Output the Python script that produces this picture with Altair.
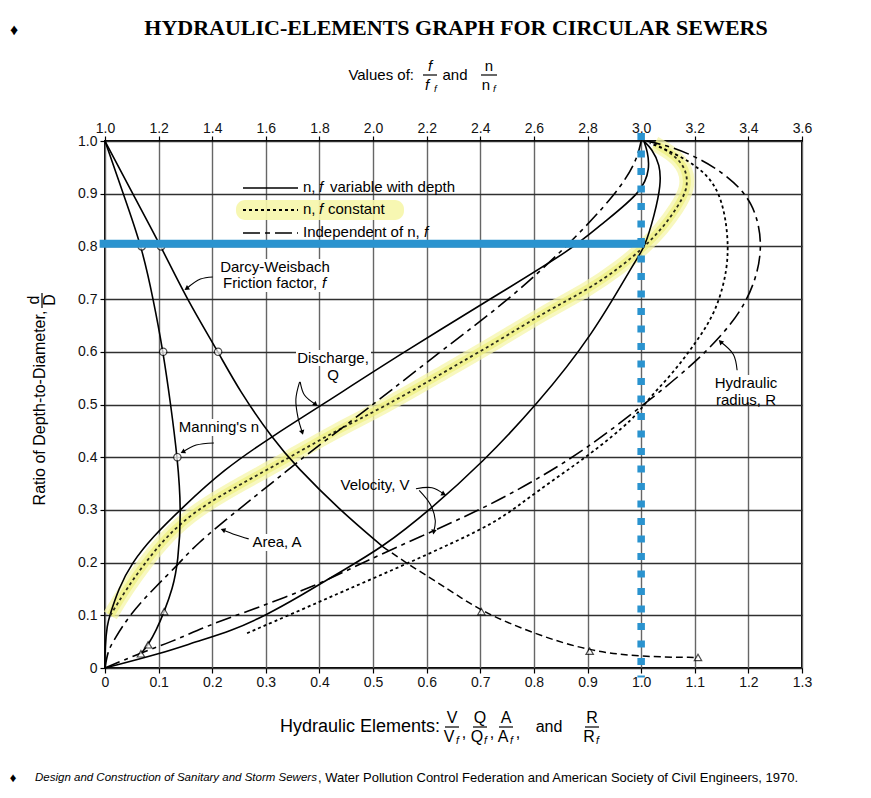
import math
import altair as alt
import pandas as pd

# ---------------- data ----------------
x_ticks = [round(0.1 * i, 1) for i in range(14)]          # hydraulic elements 0 .. 1.3
y_ticks = [round(0.1 * i, 1) for i in range(11)]          # d/D 0 .. 1.0

# Discharge Q, n, f variable with depth (solid)
qv_d = [0.0, 0.04, 0.082, 0.10, 0.15, 0.20, 0.25, 0.30, 0.376, 0.445, 0.496, 0.595, 0.711, 0.796, 0.84, 0.904, 0.948, 0.98, 1.0]
qv_x = [0.0, 0.0, 0.004, 0.009, 0.025, 0.05, 0.09, 0.14, 0.22, 0.32, 0.40, 0.55, 0.736, 0.873, 0.923, 1.003, 1.016, 1.012, 1.005]
# Velocity V, n, f variable with depth (solid)
vv_d = [0.0, 0.028, 0.05, 0.07, 0.10, 0.137, 0.183, 0.23, 0.30, 0.391, 0.499, 0.632, 0.777, 0.796, 0.86, 0.917, 0.955, 0.985, 1.0]
vv_x = [0.0, 0.106, 0.17, 0.235, 0.30, 0.365, 0.44, 0.519, 0.606, 0.705, 0.805, 0.91, 0.991, 1.006, 1.025, 1.037, 1.035, 1.02, 1.005]
# Discharge Q, n, f constant (dotted, highlighted)
qc_d = [0.10, 0.15, 0.20, 0.25, 0.30, 0.35, 0.40, 0.45, 0.495, 0.56, 0.622, 0.675, 0.72, 0.76, 0.796, 0.835, 0.872, 0.91, 0.948, 0.975, 0.995]
qc_x = [0.01, 0.04, 0.075, 0.115, 0.17, 0.255, 0.345, 0.43, 0.52, 0.63, 0.736, 0.82, 0.904, 0.96, 1.003, 1.04, 1.066, 1.088, 1.084, 1.06, 1.025]
# Velocity V, n, f constant (dotted)
vc_d = [0.066, 0.11, 0.148, 0.192, 0.238, 0.28, 0.335, 0.404, 0.477, 0.505, 0.56, 0.619, 0.676, 0.758, 0.822, 0.885, 0.935, 0.973, 0.996]
vc_x = [0.265, 0.365, 0.45, 0.55, 0.65, 0.736, 0.805, 0.904, 0.991, 1.008, 1.06, 1.103, 1.14, 1.162, 1.162, 1.152, 1.128, 1.072, 1.016]
# Area A, independent of n, f
a_d = [0.0, 0.031, 0.05, 0.10, 0.15, 0.20, 0.233, 0.30, 0.35, 0.40, 0.45, 0.50, 0.60, 0.70, 0.80, 0.90, 0.96, 1.0]
a_x = [0.0, 0.005, 0.015, 0.045, 0.09, 0.14, 0.168, 0.248, 0.31, 0.37, 0.435, 0.50, 0.625, 0.755, 0.862, 0.954, 0.991, 1.0]
# Hydraulic radius R, independent of n, f
r_d = [0.0, 0.028, 0.05, 0.078, 0.10, 0.154, 0.20, 0.25, 0.30, 0.357, 0.42, 0.50, 0.575, 0.657, 0.727, 0.803, 0.885, 0.935, 0.967, 0.99, 1.0]
r_x = [0.0, 0.065, 0.125, 0.186, 0.245, 0.39, 0.48, 0.59, 0.70, 0.805, 0.904, 1.005, 1.097, 1.175, 1.212, 1.228, 1.21, 1.16, 1.109, 1.055, 1.01]
# Manning's n/nf (top scale)
mn_d = [1.0, 0.9, 0.8, 0.7, 0.6, 0.5, 0.4, 0.3, 0.2, 0.15, 0.107, 0.07, 0.044, 0.027]
mn_t = [1.0, 1.068, 1.137, 1.18, 1.217, 1.245, 1.27, 1.285, 1.273, 1.252, 1.221, 1.19, 1.161, 1.134]
# Darcy-Weisbach f/ff (top scale), solid part then dashed part
df_d = [1.0, 0.9, 0.8, 0.7, 0.6, 0.527, 0.433, 0.382, 0.30, 0.23]
df_t = [1.0, 1.103, 1.209, 1.305, 1.422, 1.50, 1.628, 1.714, 1.875, 2.037]
dfd_d = [0.23, 0.199, 0.148, 0.107, 0.063, 0.032, 0.021, 0.02]
dfd_t = [2.037, 2.124, 2.286, 2.404, 2.61, 2.808, 3.0, 3.212]
# plotted markers (top scale)
circ_t = [1.137, 1.217, 1.27, 1.209, 1.422]
circ_d = [0.8, 0.6, 0.4, 0.8, 0.6]
tri_t = [1.221, 1.161, 1.134, 2.404, 2.808, 3.212]
tri_d = [0.107, 0.044, 0.027, 0.107, 0.032, 0.02]

# annotation arrows (data units, tip last)
arrows = [
    ([0.201, 0.178, 0.152], [0.742, 0.738, 0.72]),          # Darcy-Weisbach
    ([0.203, 0.17, 0.145], [0.427, 0.423, 0.41]),           # Manning's n
    ([0.364, 0.372, 0.393], [0.543, 0.518, 0.50]),          # Discharge -> solid
    ([0.363, 0.356, 0.36, 0.368], [0.543, 0.51, 0.475, 0.447]),  # Discharge -> dotted
    ([0.58, 0.61, 0.632], [0.34, 0.342, 0.33]),             # Velocity -> solid
    ([0.586, 0.607, 0.616, 0.613], [0.337, 0.31, 0.28, 0.258]),  # Velocity -> dotted
    ([0.268, 0.243, 0.22], [0.245, 0.253, 0.262]),          # Area
    ([1.179, 1.172, 1.148], [0.565, 0.595, 0.619]),         # Hydraulic radius
]

# ---------------- layout ----------------
W, H = 697, 527
X0, Y0 = 105, 141           # page position of plot origin, for text placement
FONT = "Liberation Sans"
BLUE = "#2a93cf"
YEL_SOFT = "#f6f6aa"
YEL = "#eef07c"
SX, SY = W / 1.3, H / 1.0

xs = alt.Scale(domain=[0, 1.3], nice=False, zero=False)
ys = alt.Scale(domain=[0, 1.0], nice=False, zero=False)
one = pd.DataFrame({"a": [0]})


def line(xv, yv, dash=None, width=1.5, color="black", opacity=1.0, top=False, interp="basis"):
    d = pd.DataFrame({"x": xv, "y": yv, "i": list(range(len(xv)))})
    kw = dict(color=color, strokeWidth=width, interpolate=interp, opacity=opacity, strokeCap="butt")
    if dash:
        kw["strokeDash"] = dash
    ch = alt.Chart(d)
    f = "x"
    if top:
        ch = ch.transform_calculate(xb="(datum.x - 1) / 2")
        f = "xb"
    return ch.mark_line(**kw).encode(
        x=alt.X(f"{f}:Q", scale=xs, axis=None),
        y=alt.Y("y:Q", scale=ys, axis=None),
        order="i:Q",
    )


def text(x, y, s, size=15, align="center", style="normal", weight="normal", font=FONT, angle=0):
    kw = dict(text=s, fontSize=size, align=align, baseline="middle", font=font,
              fontStyle=style, fontWeight=weight, color="black")
    if angle:
        kw["angle"] = angle
    return alt.Chart(one).mark_text(**kw).encode(x=alt.value(x - X0), y=alt.value(y - Y0))


def box(x1, x2, y1, y2, color="white", opacity=1.0, radius=0):
    return alt.Chart(one).mark_rect(color=color, opacity=opacity, cornerRadius=radius).encode(
        x=alt.value(x1 - X0), x2=alt.value(x2 - X0), y=alt.value(y1 - Y0), y2=alt.value(y2 - Y0))


def hrule(x1, x2, y, w=1.2, color="black", dash=None):
    kw = dict(color=color, strokeWidth=w, strokeCap="butt")
    if dash:
        kw["strokeDash"] = dash
    return alt.Chart(one).mark_rule(**kw).encode(
        x=alt.value(x1 - X0), x2=alt.value(x2 - X0), y=alt.value(y - Y0))


def vrule(x, y1, y2, w=1.2):
    return alt.Chart(one).mark_rule(color="black", strokeWidth=w).encode(
        x=alt.value(x - X0), y=alt.value(y1 - Y0), y2=alt.value(y2 - Y0))


def frac(cx, cy, num, den, size=15, italic=False, half=7):
    st = "italic" if italic else "normal"
    return [
        text(cx, cy - 9, num, size, style=st),
        hrule(cx - half, cx + half, cy),
        text(cx - 3, cy + 10, den, size, style=st),
        text(cx + 4, cy + 14, "f", size * 0.66, align="left", style="italic"),
    ]


layers = []

# axes + grid
axis_df = pd.DataFrame({"x": [0, 1.3], "y": [0, 1.0]})
lab0 = "datum.value == 0 ? '0' : format(datum.value, '.1f')"
common = dict(tickSize=5, tickColor="black", tickWidth=1.2, domain=False, labelFont=FONT,
              labelFontSize=14, labelColor="#111", labelOverlap=False, labelFlush=False, title=None)
layers.append(
    alt.Chart(axis_df).mark_point(opacity=0).encode(
        x=alt.X("x:Q", scale=xs, axis=alt.Axis(orient="bottom", values=x_ticks, labelExpr=lab0, grid=True,
                                               gridColor="#666666", gridWidth=1.4, labelPadding=2, **common)),
        y=alt.Y("y:Q", scale=ys, axis=alt.Axis(orient="left", values=y_ticks, labelExpr=lab0, grid=True,
                                               gridColor="#303030", gridWidth=1.4, labelPadding=3, **common)),
    )
)
layers.append(
    alt.Chart(axis_df).mark_point(opacity=0).encode(
        x=alt.X("x:Q", scale=xs, axis=alt.Axis(orient="top", values=x_ticks,
                                               labelExpr="format(1 + 2 * datum.value, '.1f')", grid=False,
                                               labelPadding=1, **common)),
        y=alt.Y("y:Q", scale=ys, axis=None),
    )
)

# white backgrounds behind some curve labels (they interrupt the grid in the reference)
layers += [
    box(218, 334, 259, 292),
    box(179, 261, 419, 436),
    box(296, 371, 350, 366),
    box(326, 341, 367, 383),
    box(251, 304, 534, 551),
    box(712, 781, 375, 402),
]

# yellow highlight under the "n, f constant" discharge curve and its legend entry
layers.append(line(qc_x, qc_d, width=15, color=YEL_SOFT, opacity=0.75))
layers.append(line(qc_x, qc_d, width=8, color=YEL, opacity=0.7))
layers.append(box(236, 404, 200, 220, color=YEL_SOFT, opacity=0.9, radius=9))

IND = [16, 5, 4, 5]
CONST = [3, 3]
layers += [
    line(qv_x, qv_d, width=1.6),
    line(vv_x, vv_d, width=1.6),
    line(qc_x, qc_d, dash=CONST, width=1.8, color="#2a2a1a"),
    line(vc_x, vc_d, dash=CONST, width=1.8),
    line(a_x, a_d, dash=IND, width=1.6),
    line(r_x, r_d, dash=IND, width=1.6),
    line(mn_t, mn_d, width=1.6, top=True),
    line(df_t, df_d, width=1.6, top=True),
    line(dfd_t, dfd_d, dash=[7, 4], width=1.5, top=True),
]

# markers
layers.append(
    alt.Chart(pd.DataFrame({"x": circ_t, "y": circ_d})).transform_calculate(xb="(datum.x - 1) / 2")
    .mark_point(shape="circle", filled=True, fill="white", stroke="black", strokeWidth=1.2, size=55)
    .encode(x=alt.X("xb:Q", scale=xs, axis=None), y=alt.Y("y:Q", scale=ys, axis=None))
)
layers.append(
    alt.Chart(pd.DataFrame({"x": tri_t, "y": tri_d})).transform_calculate(xb="(datum.x - 1) / 2")
    .mark_point(shape="triangle-up", filled=True, fill="white", stroke="black", strokeWidth=1.2, size=55)
    .encode(x=alt.X("xb:Q", scale=xs, axis=None), y=alt.Y("y:Q", scale=ys, axis=None))
)

# annotation arrows
for ax_, ay_ in arrows:
    layers.append(line(ax_, ay_, width=1.1, interp="catmull-rom"))
    dxp = (ax_[-1] - ax_[-2]) * SX
    dyp = -(ay_[-1] - ay_[-2]) * SY
    ang = math.degrees(math.atan2(dxp, -dyp)) % 360
    layers.append(
        alt.Chart(pd.DataFrame({"x": [ax_[-1]], "y": [ay_[-1]]}))
        .mark_point(shape="triangle-up", filled=True, color="black", size=30, angle=ang, opacity=1)
        .encode(x=alt.X("x:Q", scale=xs, axis=None), y=alt.Y("y:Q", scale=ys, axis=None))
    )

# legend
layers += [
    hrule(243, 298, 188, w=1.6),
    hrule(243, 298, 210, w=1.8, dash=[3, 3]),
    hrule(243, 298, 233, w=1.6, dash=[17, 5, 5, 5]),
    text(303, 187, "n,", 15, align="left"),
    text(319, 187, "f", 15, align="left", style="italic"),
    text(330, 187, "variable with depth", 15, align="left"),
    text(303, 209, "n,", 15, align="left"),
    text(319, 209, "f", 15, align="left", style="italic"),
    text(328, 209, "constant", 15, align="left"),
    text(303, 232, "Independent of n,", 15, align="left"),
    text(424, 232, "f", 15, align="left", style="italic"),
]

# curve labels
layers += [
    text(275, 267, "Darcy-Weisbach", 15),
    text(223, 283, "Friction factor,", 15, align="left"),
    text(322, 283, "f", 15, align="left", style="italic"),
    text(219, 427, "Manning's n", 15),
    text(333, 358, "Discharge,", 15),
    text(333, 375, "Q", 15),
    text(375, 485, "Velocity, V", 15),
    text(277, 542, "Area, A", 15),
    text(746, 383, "Hydraulic", 15),
    text(746, 400, "radius, R", 15),
]

# titles
layers += [
    text(14, 30, "\u2666", 16),
    text(456, 28, "HYDRAULIC-ELEMENTS GRAPH FOR CIRCULAR SEWERS", 22, weight="bold", font="Liberation Serif"),
    text(414, 75, "Values of:", 15, align="right"),
    text(455, 75, "and", 15),
]
layers += frac(430, 75, "f", "f", 15, italic=True, half=7)
layers += frac(489, 75, "n", "n", 15, half=8)

# y-axis title
layers += [
    text(40, 408, "Ratio of Depth-to-Diameter,", 16, angle=270),
    text(34, 300, "d", 16, angle=270),
    text(50, 300, "D", 16, angle=270),
    vrule(42, 293, 308),
]

# x-axis title
layers += [text(440, 727, "Hydraulic Elements:", 18, align="right")]
layers += frac(452, 727, "V", "V", 16, half=7)
layers += [text(464, 733, ",", 16)]
layers += frac(480, 727, "Q", "Q", 16, half=7)
layers += [text(492, 733, ",", 16)]
layers += frac(506, 727, "A", "A", 16, half=7)
layers += [text(518, 733, ",", 16), text(549, 727, "and", 16)]
layers += frac(592, 727, "R", "R", 16, half=7)

# source line
layers += [
    text(13, 778, "\u2666", 13),
    text(35, 778, "Design and Construction of Sanitary and Storm Sewers", 11.5, align="left", style="italic"),
    text(318, 778, ", Water Pollution Control Federation and American Society of Civil Engineers, 1970.", 13, align="left"),
]

# blue overlay lines
layers.append(
    alt.Chart(pd.DataFrame({"x": [-0.01], "x2": [1.006], "y": [0.805]}))
    .mark_rule(color=BLUE, strokeWidth=8, strokeCap="butt")
    .encode(x=alt.X("x:Q", scale=xs, axis=None), x2="x2:Q", y=alt.Y("y:Q", scale=ys, axis=None))
)
layers.append(
    alt.Chart(pd.DataFrame({"x": [1.0], "y": [1.015], "y2": [-0.018]}))
    .mark_rule(color=BLUE, strokeWidth=7.5, strokeDash=[7, 10.5], strokeCap="butt")
    .encode(x=alt.X("x:Q", scale=xs, axis=None), y=alt.Y("y:Q", scale=ys, axis=None), y2="y2:Q")
)

chart = (
    alt.layer(*layers)
    .resolve_axis(x="independent", y="independent")
    .properties(width=W, height=H, autosize=alt.AutoSizeParams(type="none"),
                padding={"left": 97, "top": 133, "right": 60, "bottom": 120})
    .configure_view(stroke="black", strokeWidth=2)
)

chart.save("out.html", embed_options={"renderer": "svg", "actions": False})
